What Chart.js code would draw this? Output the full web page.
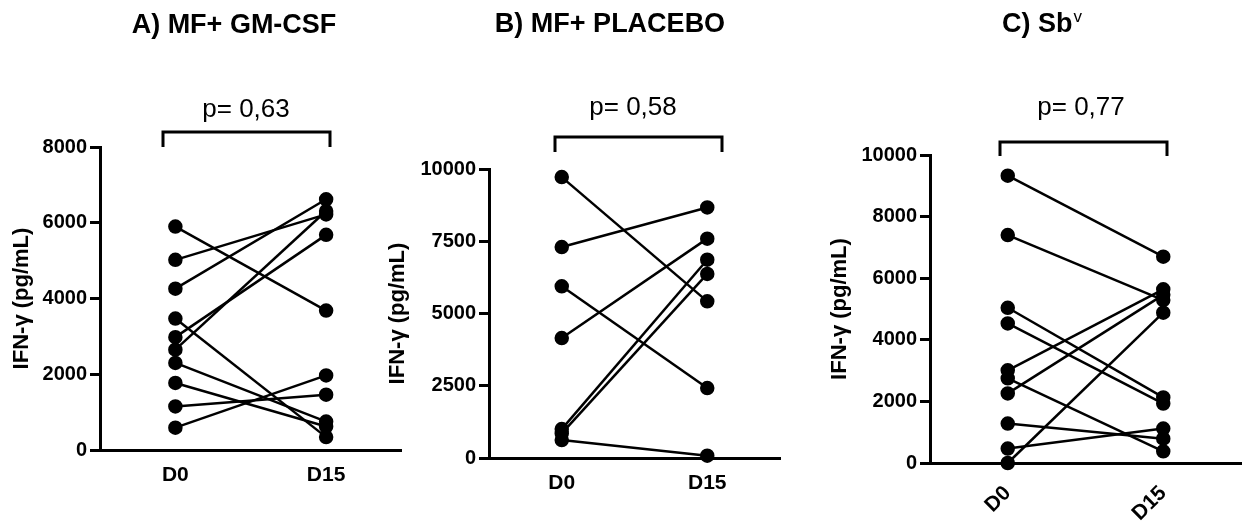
<!DOCTYPE html>
<html>
<head>
<meta charset="utf-8">
<script src="https://cdn.jsdelivr.net/npm/chart.js@4/dist/chart.umd.min.js"></script>
<style>
  body { margin: 0; background: #fff; }
  #wrap { position: relative; width: 1250px; height: 522px; overflow: hidden; }
  canvas { position: absolute; top: 0; }
</style>
</head>
<body>
<div id="wrap">
  <canvas id="chartA" width="410" height="522" style="left:0px"></canvas>
  <canvas id="chartB" width="410" height="522" style="left:380px"></canvas>
  <canvas id="chartC" width="430" height="522" style="left:820px"></canvas>
</div>
<script>
'use strict';

// x categories
let dayLabels = ['D0', 'D15'];

// A) MF+ GM-CSF, one entry per patient
let gmD0 = [5900, 5020, 4260, 3470, 2980, 2650, 2300, 1770, 1150, 590];
let gmD15 = [3680, 6220, 6620, 340, 5680, 6310, 750, 620, 1460, 1970];
let gmTicks = [0, 2000, 4000, 6000, 8000];

// B) MF+ PLACEBO
let plD0 = [9720, 7300, 5940, 4150, 1000, 850, 620];
let plD15 = [5420, 8670, 2420, 7590, 6860, 6370, 80];
let plTicks = [0, 2500, 5000, 7500, 10000];

// C) SbV
let sbD0 = [9330, 7400, 5040, 4530, 3010, 2750, 2260, 1280, 470, 0];
let sbD15 = [6700, 5290, 2130, 1930, 5640, 380, 5460, 790, 1120, 4880];
let sbTicks = [0, 2000, 4000, 6000, 8000, 10000];

const FONT = '"Liberation Sans", Arial, sans-serif';

// titles, p-values and the brackets on top
const panelDecor = {
  id: 'panelDecor',
  afterDraw(chart, args, opts) {
    let c = chart.ctx;
    let dx = opts.left;
    c.save();
    c.fillStyle = '#000';
    c.strokeStyle = '#000';
    c.textBaseline = 'alphabetic';

    c.font = 'bold 27px ' + FONT;
    let w1 = c.measureText(opts.title).width;
    let w2 = 0;
    if (opts.sup) {
      c.font = '17px ' + FONT;
      w2 = c.measureText(opts.sup).width + 1;
    }
    let start = opts.titleX - dx - (w1 + w2) / 2;
    c.textAlign = 'left';
    c.font = 'bold 27px ' + FONT;
    c.fillText(opts.title, start, opts.titleY);
    if (opts.sup) {
      c.font = '17px ' + FONT;
      c.fillText(opts.sup, start + w1 + 1, opts.titleY - 10);
    }

    c.textAlign = 'center';
    c.font = '26px ' + FONT;
    c.fillText(opts.pText, opts.pX - dx, opts.pY);

    c.lineWidth = 3;
    c.lineJoin = 'miter';
    c.beginPath();
    c.moveTo(opts.bx1 - dx, opts.legY);
    c.lineTo(opts.bx1 - dx, opts.barY);
    c.lineTo(opts.bx2 - dx, opts.barY);
    c.lineTo(opts.bx2 - dx, opts.legY);
    c.stroke();
    c.restore();
  }
};

function makeDatasets(before, after) {
  let sets = [];
  for (let i = 0; i < before.length; i++) {
    sets.push({
      data: [{ x: 0, y: before[i] }, { x: 1, y: after[i] }],
      showLine: true,
      borderColor: '#000',
      borderWidth: 2.5,
      backgroundColor: '#000',
      pointBackgroundColor: '#000',
      pointBorderColor: '#000',
      pointRadius: 6,
      clip: false
    });
  }
  return sets;
}

function makeChart(id, before, after, ticks, p) {
  let ctx = document.getElementById(id).getContext('2d');
  return new Chart(ctx, {
    type: 'scatter',
    data: { datasets: makeDatasets(before, after) },
    plugins: [panelDecor],
    options: {
      responsive: false,
      animation: false,
      events: [],
      layout: { padding: { left: p.padLeft, right: p.padRight, top: p.top, bottom: 0 } },
      plugins: {
        legend: { display: false },
        tooltip: { enabled: false },
        panelDecor: p.decor
      },
      scales: {
        x: {
          type: 'linear',
          min: -0.5,
          max: 1.5,
          afterBuildTicks: (scale) => {
            scale.ticks = [{ value: 0 }, { value: 1 }];
          },
          afterFit: (scale) => {
            scale.height = p.xHeight;
          },
          ticks: {
            callback: (v) => dayLabels[v],
            color: '#000',
            font: { family: FONT, size: 21, weight: 'bold' },
            padding: p.xPad,
            minRotation: p.rot,
            maxRotation: p.rot
          },
          grid: { display: false },
          border: { color: '#000', width: 3 }
        },
        y: {
          min: ticks[0],
          max: ticks[ticks.length - 1],
          afterBuildTicks: (scale) => {
            scale.ticks = ticks.map((v) => ({ value: v }));
          },
          afterFit: (scale) => {
            scale.width = p.yWidth;
          },
          ticks: {
            callback: (v) => String(v),
            color: '#000',
            font: { family: FONT, size: 20, weight: 'bold' },
            padding: 3
          },
          grid: { drawOnChartArea: false, color: '#000', lineWidth: 3, tickLength: 10 },
          border: { color: '#000', width: 3 },
          title: {
            display: true,
            text: 'IFN-γ (pg/mL)',
            color: '#000',
            font: { family: FONT, size: 22, weight: 'bold' },
            padding: 0
          }
        }
      }
    }
  });
}

makeChart('chartA', gmD0, gmD15, gmTicks, {
  padLeft: 9, padRight: 8, top: 147, yWidth: 91, xHeight: 72, rot: 0, xPad: 5,
  decor: { left: 0, title: 'A) MF+ GM-CSF', titleX: 234, titleY: 33,
    pText: 'p= 0,63', pX: 246, pY: 117, bx1: 163, bx2: 330, barY: 132, legY: 147 }
});

makeChart('chartB', plD0, plD15, plTicks, {
  padLeft: 5, padRight: 10, top: 169, yWidth: 104, xHeight: 64, rot: 0, xPad: 5,
  decor: { left: 380, title: 'B) MF+ PLACEBO', titleX: 610, titleY: 32,
    pText: 'p= 0,58', pX: 633, pY: 115, bx1: 555, bx2: 722, barY: 137, legY: 152 }
});

makeChart('chartC', sbD0, sbD15, sbTicks, {
  padLeft: 7, padRight: 9, top: 155, yWidth: 103, xHeight: 59, rot: 45, xPad: 10,
  decor: { left: 820, title: 'C) Sb', sup: 'v', titleX: 1042, titleY: 32,
    pText: 'p= 0,77', pX: 1081, pY: 115, bx1: 1000, bx2: 1167, barY: 142, legY: 156 }
});
</script>
</body>
</html>
